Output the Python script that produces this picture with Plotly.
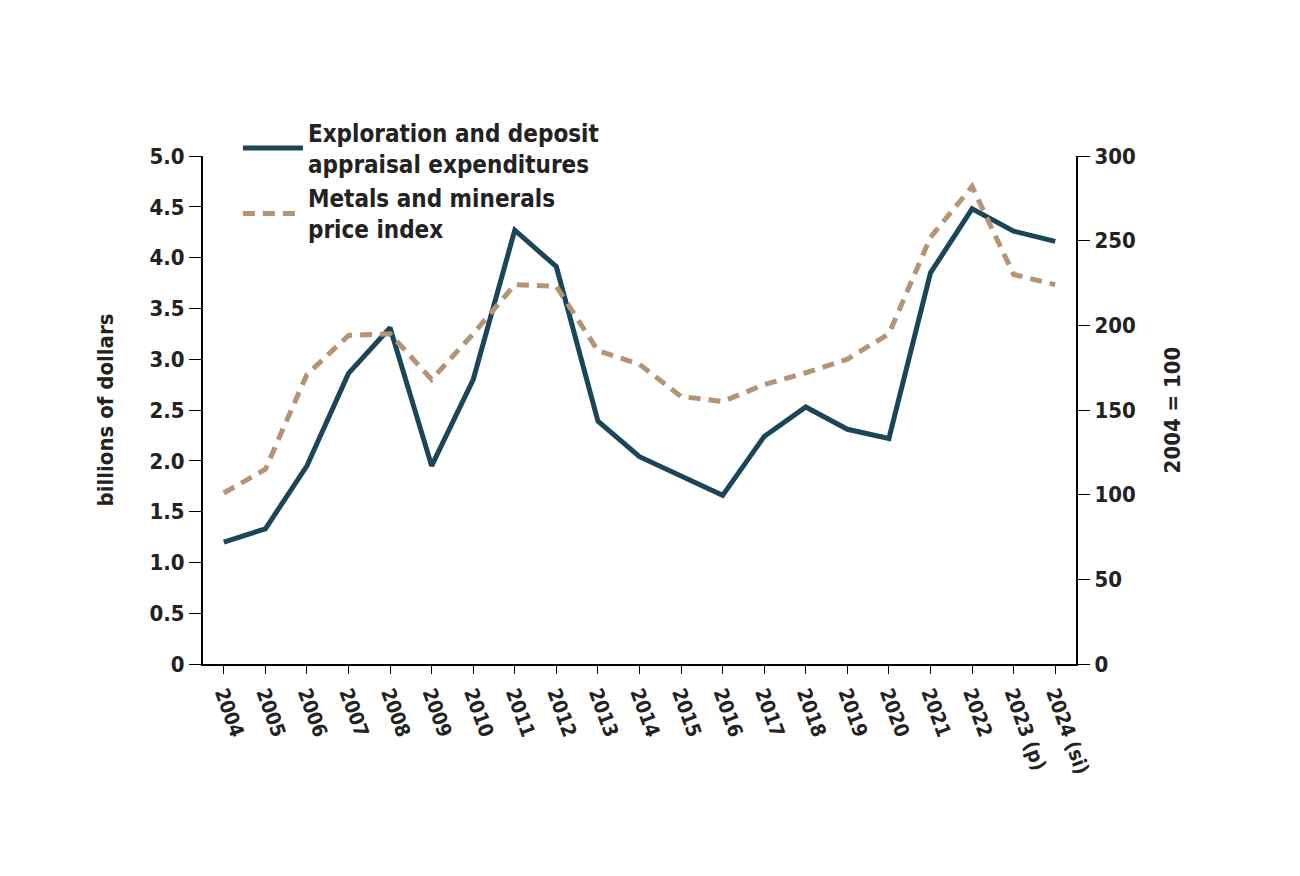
import plotly.graph_objects as go

years = ["2004","2005","2006","2007","2008","2009","2010","2011","2012","2013","2014",
         "2015","2016","2017","2018","2019","2020","2021","2022","2023 (p)","2024 (si)"]
expenditures = [1.20,1.33,1.95,2.86,3.31,1.95,2.80,4.27,3.91,2.39,2.04,1.85,1.66,2.24,2.53,2.31,2.22,3.85,4.48,4.26,4.16]
price_index = [101,115,171,194,195,168,195,224,223,185,177,158,155,165,172,180,195,252,282,230,224]
left_ticks = [0,0.5,1,1.5,2,2.5,3,3.5,4,4.5,5]
left_labels = ["0","0.5","1.0","1.5","2.0","2.5","3.0","3.5","4.0","4.5","5.0"]
right_ticks = [0,50,100,150,200,250,300]

FONT = "DejaVu Sans Condensed"
fig = go.Figure()
fig.add_trace(go.Scatter(x=years, y=expenditures, mode="lines",
    name="<b>Exploration and deposit<br>appraisal expenditures</b>",
    line=dict(color="#1b4558", width=5)))
fig.add_trace(go.Scatter(x=years, y=price_index, mode="lines", yaxis="y2",
    name="<b>Metals and minerals<br>price index</b>",
    line=dict(color="#b39474", width=5, dash="12px,8px")))
fig.update_layout(
    width=1300, height=876, paper_bgcolor="white", plot_bgcolor="white",
    margin=dict(l=195, r=232, t=148, b=220, autoexpand=False),
    font=dict(family=FONT, size=22, color="#222"),
    showlegend=True,
    legend=dict(orientation="h", x=0.04, y=1.09, xanchor="left", yanchor="top",
                font=dict(size=24, family=FONT, color="#222"), entrywidth=420,
                bgcolor="rgba(0,0,0,0)", itemwidth=60),
    xaxis=dict(type="category", range=[-0.5, 20.5], showline=True, linecolor="black", linewidth=2,
               ticks="outside", ticklen=8, tickcolor="black", tickangle=70, showgrid=False,
               tickfont=dict(size=20, family=FONT, weight="bold")),
    yaxis=dict(range=[0,5], tickvals=left_ticks, ticktext=left_labels, showline=True, linecolor="black",
               linewidth=2, ticks="outside", ticklen=12, tickcolor="black", showgrid=False, zeroline=False,
               tickfont=dict(size=22, family=FONT, weight="bold"),
               title=dict(text="<b>billions of dollars</b>", font=dict(size=22, family=FONT), standoff=30)),
    yaxis2=dict(range=[0,300], tickvals=right_ticks, overlaying="y", side="right", showline=True,
                linecolor="black", linewidth=2, ticks="outside", ticklen=12, tickcolor="black",
                showgrid=False, zeroline=False, tickfont=dict(size=22, family=FONT, weight="bold"),
                title=dict(text="<b>2004 = 100</b>", font=dict(size=22, family=FONT), standoff=30)),
)
fig.write_html("out.html")
